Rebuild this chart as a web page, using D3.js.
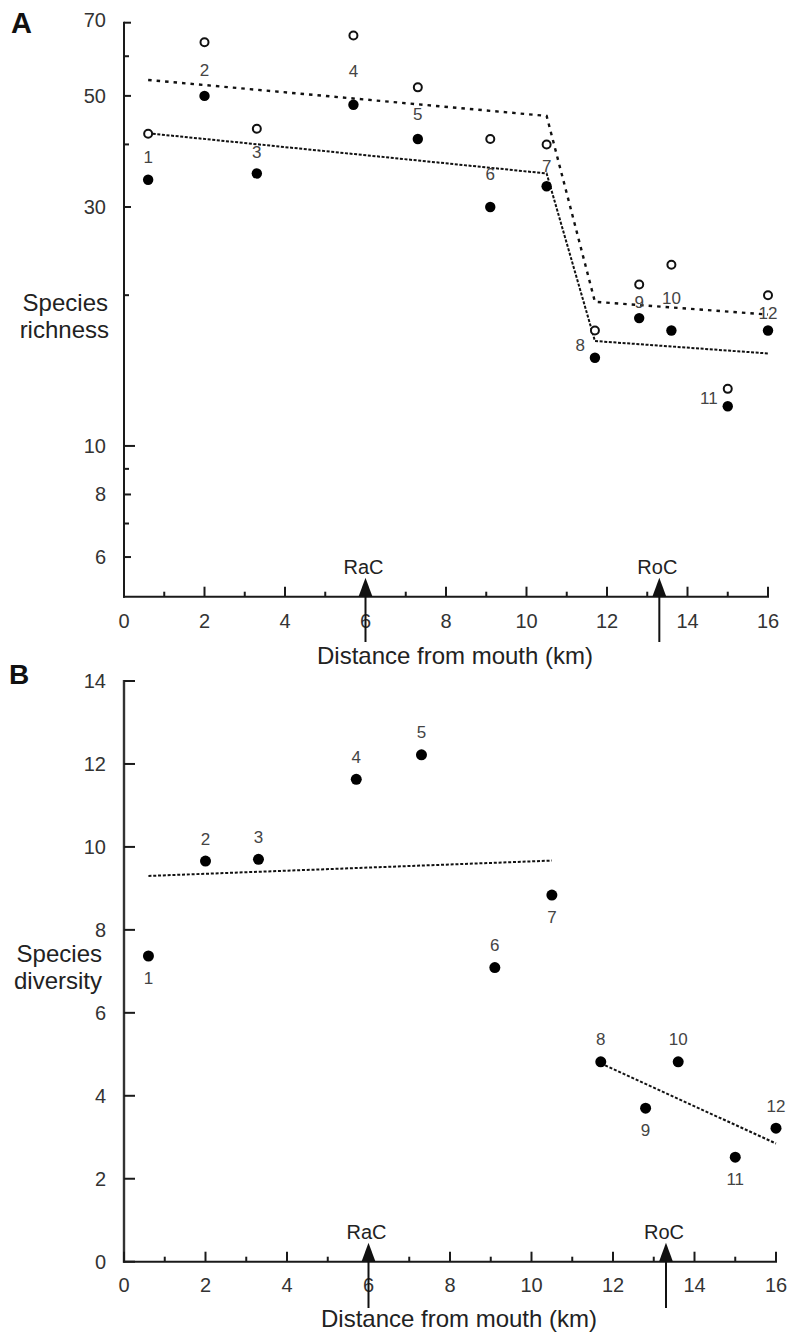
<!DOCTYPE html>
<html>
<head>
<meta charset="utf-8">
<script src="https://cdn.jsdelivr.net/npm/d3@7"></script>
<style>
  html, body { margin: 0; padding: 0; background: #fff; }
  svg { display: block; font-family: "Liberation Sans", Arial, sans-serif; }
</style>
</head>
<body>
<svg id="chart" width="788" height="1337"></svg>
<script>
// ---------------- DATA ----------------
const sites = [1, 2, 3, 4, 5, 6, 7, 8, 9, 10, 11, 12];
const distanceKm = [0.6, 2.0, 3.3, 5.7, 7.3, 9.1, 10.5, 11.7, 12.8, 13.6, 15.0, 16.0];
const richnessObserved = [34, 50, 35, 48, 41, 30, 33, 15, 18, 17, 12, 17];
const richnessEstimated = [42, 64, 43, 66, 52, 41, 40, 17, 21, 23, 13, 20];
const diversity = [7.37, 9.66, 9.70, 11.63, 12.22, 7.09, 8.84, 4.82, 3.70, 4.82, 2.52, 3.22];

const richFitUpperX = [0.6, 10.5, 11.7, 16.0];
const richFitUpperY = [53.8, 45.6, 19.4, 18.3];
const richFitLowerX = [0.6, 10.5, 11.7, 16.0];
const richFitLowerY = [42.1, 35.0, 16.2, 15.3];
const divFitDownX = [0.6, 10.5];
const divFitDownY = [9.30, 9.67];
const divFitUpX = [11.7, 16.0];
const divFitUpY = [4.78, 2.85];

const confluenceNames = ["RaC", "RoC"];
const confluenceKm = [6.0, 13.3];

const xTickValues = d3.range(0, 17, 1);
const xTickLabels = ["0", "2", "4", "6", "8", "10", "12", "14", "16"];
const yTicksAMajor = [70, 50, 30, 10, 8, 6];
const yTicksAMinor = [60, 40, 20, 9, 7];
const yTicksB = [0, 2, 4, 6, 8, 10, 12, 14];

// label placement (layout only)
const labelPlaceA = ["mid","mid","mid","mid","mid","mid","mid","left","mid","mid","left","mid"];
const labelPlaceB = ["below","above","above","above","above","above","below","above","below","above","below","above"];

// ---------------- LAYOUT ----------------
const svg = d3.select("#chart");
const axisColor = "#1a1a1a";
const tickText = "#333";
const labelText = "#444";

function drawXAxis(g, x, y0, labelY, titleY) {
  g.append("line").attr("x1", x(0) - 1).attr("x2", x(16) + 1)
    .attr("y1", y0).attr("y2", y0).attr("stroke", axisColor).attr("stroke-width", 2);
  g.selectAll(".xt").data(xTickValues).enter().append("line")
    .attr("x1", d => x(d)).attr("x2", d => x(d))
    .attr("y1", y0).attr("y2", d => y0 - (d % 2 === 0 ? 10 : 5))
    .attr("stroke", axisColor).attr("stroke-width", 2);
  g.selectAll(".xl").data(xTickLabels).enter().append("text")
    .attr("x", d => x(+d)).attr("y", labelY)
    .attr("text-anchor", "middle").attr("dominant-baseline", "central")
    .attr("font-size", 20).attr("fill", tickText).text(d => d);
  g.append("text").attr("x", (x(0) + x(16)) / 2 + 9).attr("y", titleY)
    .attr("text-anchor", "middle").attr("dominant-baseline", "central")
    .attr("font-size", 24).attr("fill", "#222").text("Distance from mouth (km)");
}

function drawConfluences(g, x, y0, lineBottom, labelY) {
  confluenceKm.forEach((km, i) => {
    const cx = x(km);
    g.append("line").attr("x1", cx).attr("x2", cx)
      .attr("y1", y0 - 10).attr("y2", lineBottom)
      .attr("stroke", "#111").attr("stroke-width", 2);
    g.append("path")
      .attr("d", `M${cx - 7},${y0} L${cx},${y0 - 19} L${cx + 7},${y0} Z`)
      .attr("fill", "#111");
    g.append("text").attr("x", cx - 2).attr("y", labelY)
      .attr("text-anchor", "middle").attr("dominant-baseline", "central")
      .attr("font-size", 20).attr("fill", "#222").text(confluenceNames[i]);
  });
}

// ---------------- PANEL A ----------------
const gA = svg.append("g");
const xA = d3.scaleLinear().domain([0, 16]).range([124, 768]);
const yA = d3.scaleLog().domain([5, 70]).range([596.7, 22.7]);

gA.append("text").attr("x", 11).attr("y", 33).attr("font-size", 29)
  .attr("font-weight", "bold").attr("fill", "#111").text("A");

gA.append("line").attr("x1", xA(0)).attr("x2", xA(0))
  .attr("y1", yA(70) - 1).attr("y2", yA(5) + 1).attr("stroke", axisColor).attr("stroke-width", 2);
gA.selectAll(".ytM").data(yTicksAMajor).enter().append("line")
  .attr("x1", xA(0)).attr("x2", d => xA(0) + (d === 10 ? 11 : 7))
  .attr("y1", d => yA(d)).attr("y2", d => yA(d))
  .attr("stroke", axisColor).attr("stroke-width", 2);
gA.selectAll(".ytm").data(yTicksAMinor).enter().append("line")
  .attr("x1", xA(0)).attr("x2", xA(0) + 5)
  .attr("y1", d => yA(d)).attr("y2", d => yA(d))
  .attr("stroke", axisColor).attr("stroke-width", 2);
gA.selectAll(".ylab").data(yTicksAMajor).enter().append("text")
  .attr("x", 106).attr("y", d => yA(d) - (d === 70 ? 3 : 0))
  .attr("text-anchor", "end").attr("dominant-baseline", "central")
  .attr("font-size", 20).attr("fill", tickText).text(d => d);

gA.append("text").attr("x", 108).attr("y", 302).attr("text-anchor", "end")
  .attr("dominant-baseline", "central").attr("font-size", 24).attr("fill", "#222").text("Species");
gA.append("text").attr("x", 109).attr("y", 329).attr("text-anchor", "end")
  .attr("dominant-baseline", "central").attr("font-size", 24).attr("fill", "#222").text("richness");

drawXAxis(gA, xA, yA(5), 621, 655);
drawConfluences(gA, xA, yA(5), 642, 567);

const lineA = d3.line().x(d => xA(d[0])).y(d => yA(d[1]));
gA.append("path").datum(d3.zip(richFitUpperX, richFitUpperY)).attr("d", lineA)
  .attr("fill", "none").attr("stroke", "#111").attr("stroke-width", 2.4)
  .attr("stroke-dasharray", "3.5,5");
gA.append("path").datum(d3.zip(richFitLowerX, richFitLowerY)).attr("d", lineA)
  .attr("fill", "none").attr("stroke", "#111").attr("stroke-width", 2)
  .attr("stroke-dasharray", "3,1.6");

const dataA = sites.map((s, i) => ({ s, x: distanceKm[i], obs: richnessObserved[i], est: richnessEstimated[i], place: labelPlaceA[i] }));
gA.selectAll(".est").data(dataA).enter().append("circle")
  .attr("cx", d => xA(d.x)).attr("cy", d => yA(d.est)).attr("r", 4)
  .attr("fill", "#fff").attr("stroke", "#111").attr("stroke-width", 2);
gA.selectAll(".obs").data(dataA).enter().append("circle")
  .attr("cx", d => xA(d.x)).attr("cy", d => yA(d.obs)).attr("r", 5.2)
  .attr("fill", "#000");
gA.selectAll(".lab").data(dataA).enter().append("text")
  .attr("x", d => d.place === "left" ? xA(d.x) - 10 : xA(d.x))
  .attr("y", d => (yA(d.obs) + yA(d.est)) / 2 + 1)
  .attr("text-anchor", d => d.place === "left" ? "end" : "middle")
  .attr("dominant-baseline", "central")
  .attr("font-size", 17).attr("fill", labelText).text(d => d.s);

// ---------------- PANEL B ----------------
const gB = svg.append("g");
const xB = d3.scaleLinear().domain([0, 16]).range([124, 776]);
const yB = d3.scaleLinear().domain([0, 14]).range([1261.7, 681]);

gB.append("text").attr("x", 9).attr("y", 684).attr("font-size", 28)
  .attr("font-weight", "bold").attr("fill", "#111").text("B");

gB.append("line").attr("x1", xB(0)).attr("x2", xB(0))
  .attr("y1", yB(14) - 1).attr("y2", yB(0) + 1).attr("stroke", "#333").attr("stroke-width", 2.4);
gB.selectAll(".yt").data(yTicksB).enter().append("line")
  .attr("x1", xB(0)).attr("x2", xB(0) + 11)
  .attr("y1", d => yB(d)).attr("y2", d => yB(d))
  .attr("stroke", axisColor).attr("stroke-width", 2);
gB.selectAll(".ylab").data(yTicksB).enter().append("text")
  .attr("x", 106).attr("y", d => yB(d))
  .attr("text-anchor", "end").attr("dominant-baseline", "central")
  .attr("font-size", 20).attr("fill", tickText).text(d => d);

gB.append("text").attr("x", 102).attr("y", 953).attr("text-anchor", "end")
  .attr("dominant-baseline", "central").attr("font-size", 24).attr("fill", "#222").text("Species");
gB.append("text").attr("x", 102).attr("y", 980).attr("text-anchor", "end")
  .attr("dominant-baseline", "central").attr("font-size", 24).attr("fill", "#222").text("diversity");

drawXAxis(gB, xB, yB(0), 1285, 1318);
drawConfluences(gB, xB, yB(0), 1308, 1232);

const lineB = d3.line().x(d => xB(d[0])).y(d => yB(d[1]));
[[divFitDownX, divFitDownY], [divFitUpX, divFitUpY]].forEach(([xs, ys]) => {
  gB.append("path").datum(d3.zip(xs, ys)).attr("d", lineB)
    .attr("fill", "none").attr("stroke", "#111").attr("stroke-width", 2)
    .attr("stroke-dasharray", "3,1.8");
});

const dataB = sites.map((s, i) => ({ s, x: distanceKm[i], v: diversity[i], place: labelPlaceB[i] }));
gB.selectAll(".pt").data(dataB).enter().append("circle")
  .attr("cx", d => xB(d.x)).attr("cy", d => yB(d.v)).attr("r", 5.5).attr("fill", "#000");
gB.selectAll(".lab").data(dataB).enter().append("text")
  .attr("x", d => xB(d.x))
  .attr("y", d => yB(d.v) + (d.place === "above" ? -22 : 22))
  .attr("text-anchor", "middle").attr("dominant-baseline", "central")
  .attr("font-size", 17).attr("fill", labelText).text(d => d.s);
</script>
</body>
</html>
